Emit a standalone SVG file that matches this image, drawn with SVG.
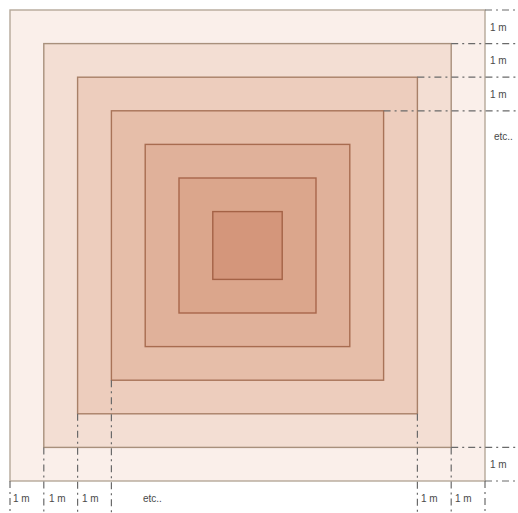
<svg xmlns="http://www.w3.org/2000/svg" width="518" height="513" viewBox="0 0 518 513">
<style>
.sq{stroke-width:1.4}
.dl{stroke:#6a6a6a;stroke-width:1.2;stroke-dasharray:7 4 2 4;fill:none}
text{font-family:"Liberation Sans",Arial,sans-serif;font-size:10px;fill:#4a4a4a}
</style>
<rect width="518" height="513" fill="#ffffff"/>
<g id="sq1"><rect class="sq" x="10" y="10" width="475" height="471" fill="#faefea" stroke="#b5a899"/></g>
<g id="sq2"><rect class="sq" x="43.8" y="43.6" width="407.4" height="403.8" fill="#f3ded3" stroke="#a8907c"/></g>
<g id="sq3"><rect class="sq" x="77.6" y="77.2" width="339.8" height="336.6" fill="#edcdbd" stroke="#a88068"/></g>
<g id="sq4"><rect class="sq" x="111.4" y="110.8" width="272.2" height="269.4" fill="#e6bea9" stroke="#a87358"/></g>
<g id="sq5"><rect class="sq" x="145.2" y="144.4" width="204.6" height="202.2" fill="#e0b19a" stroke="#a86c50"/></g>
<g id="sq6"><rect class="sq" x="179" y="178" width="137" height="135" fill="#dba68c" stroke="#a8664a"/></g>
<g id="sq7"><rect class="sq" x="212.8" y="211.6" width="69.4" height="67.8" fill="#d4967b" stroke="#a46246"/></g>
<g id="connectors">
<line class="dl" x1="485" y1="10" x2="518" y2="10"/>
<line class="dl" x1="451.2" y1="43.6" x2="518" y2="43.6"/>
<line class="dl" x1="417.4" y1="77.2" x2="518" y2="77.2"/>
<line class="dl" x1="383.6" y1="110.8" x2="518" y2="110.8"/>
<line class="dl" x1="451.2" y1="447.4" x2="518" y2="447.4"/>
<line class="dl" x1="485" y1="481" x2="518" y2="481"/>
<line class="dl" x1="10" y1="481" x2="10" y2="513"/>
<line class="dl" x1="43.8" y1="447.4" x2="43.8" y2="513"/>
<line class="dl" x1="77.6" y1="413.8" x2="77.6" y2="513"/>
<line class="dl" x1="111.4" y1="380.2" x2="111.4" y2="513"/>
<line class="dl" x1="417.4" y1="413.8" x2="417.4" y2="513"/>
<line class="dl" x1="451.2" y1="447.4" x2="451.2" y2="513"/>
<line class="dl" x1="485" y1="481" x2="485" y2="513"/>
</g>
<g id="labels">
<text x="490" y="31">1 m</text>
<text x="490" y="64">1 m</text>
<text x="490" y="98">1 m</text>
<text x="494" y="140" font-size="8">etc..</text>
<text x="490" y="468">1 m</text>
<text x="13" y="502">1 m</text>
<text x="49" y="502">1 m</text>
<text x="82" y="502">1 m</text>
<text x="143" y="502" font-size="8">etc..</text>
<text x="421" y="502">1 m</text>
<text x="455" y="502">1 m</text>
</g>
</svg>
